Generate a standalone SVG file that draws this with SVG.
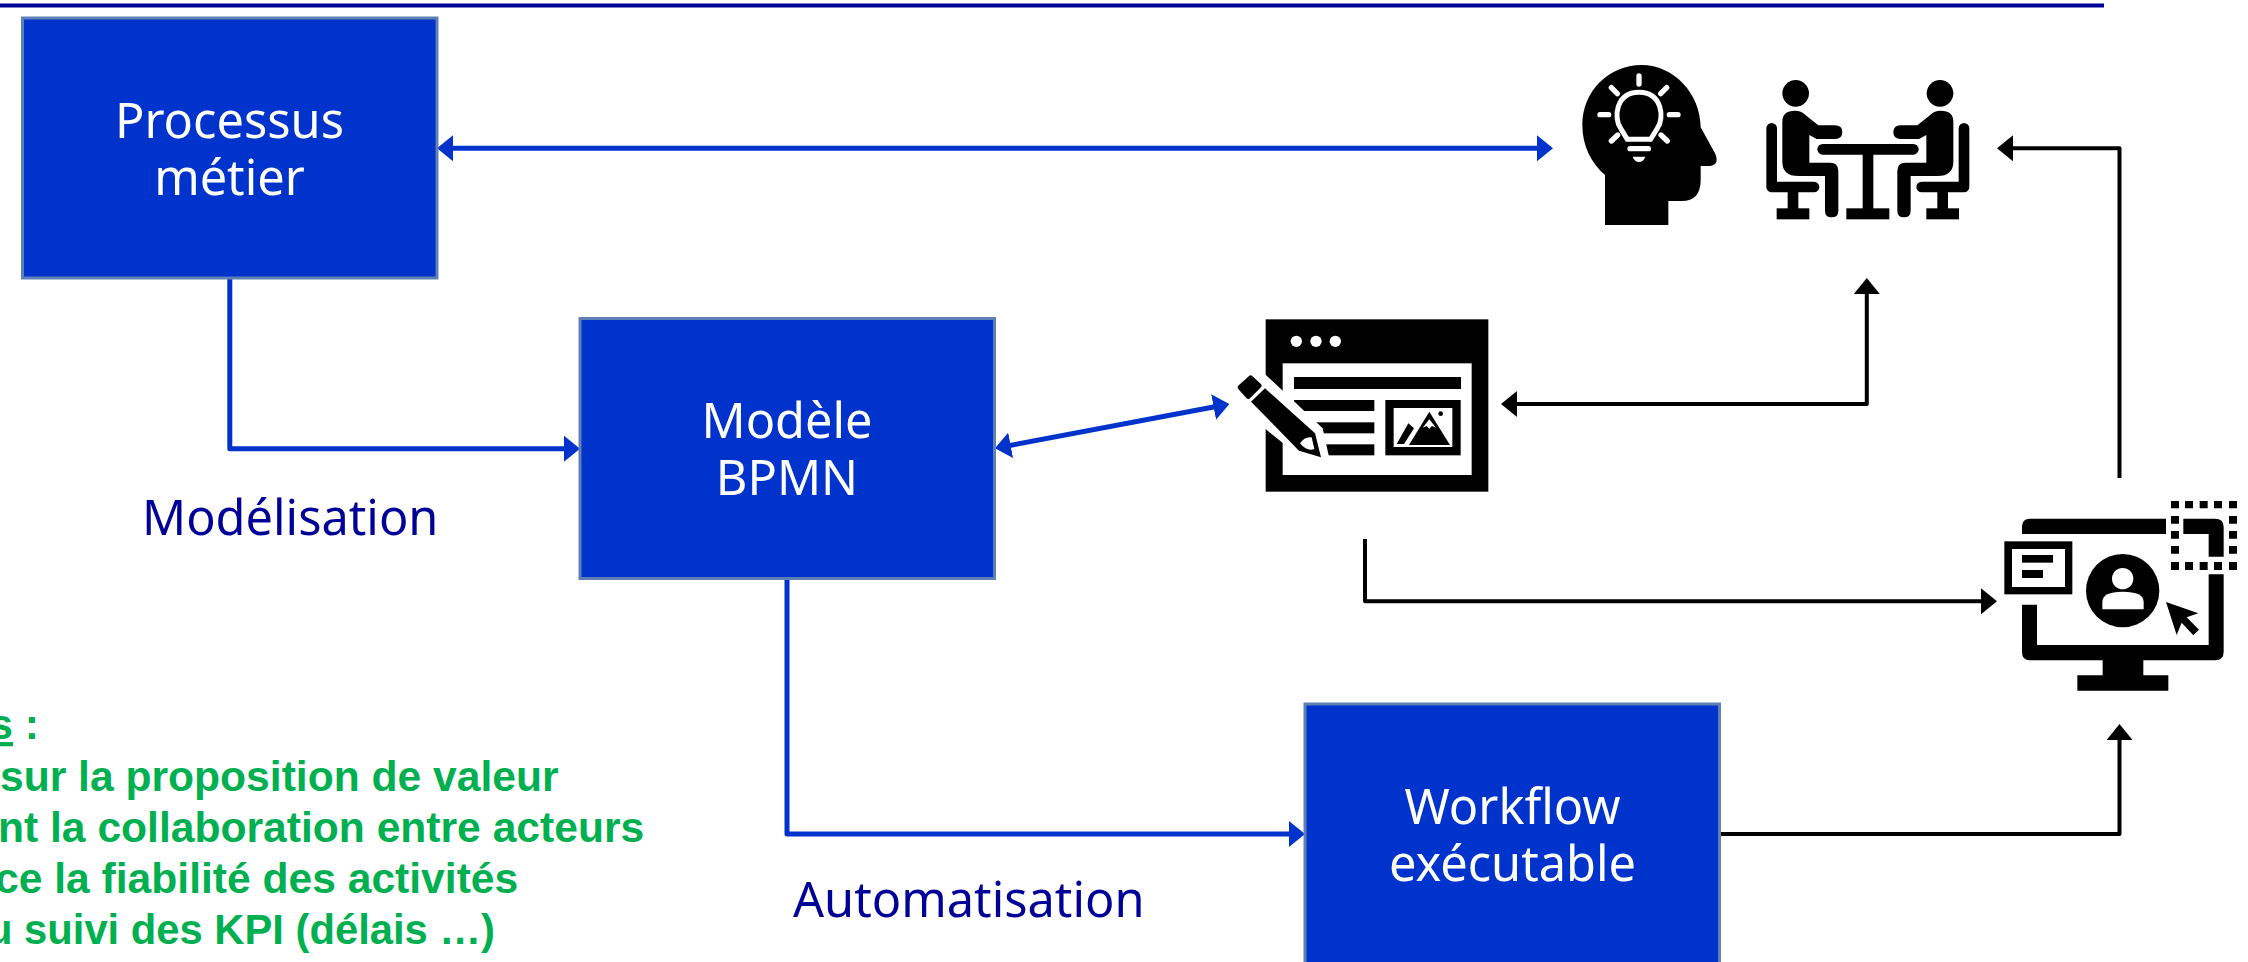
<svg xmlns="http://www.w3.org/2000/svg" width="2248" height="962" viewBox="0 0 2248 962">
<style>
.box{fill:#0033cc;stroke:#5f80b4;stroke-width:3}
.bt{font-family:"Noto Sans","Liberation Sans",sans-serif;font-size:48.7px;fill:#fff;text-anchor:middle}
.lbl{font-family:"Noto Sans","Liberation Sans",sans-serif;font-size:48.7px;fill:#000099}
.gr{font-family:"Liberation Sans",Arial,sans-serif;font-weight:bold;font-size:42.6px;fill:#00b050}
.bl{fill:none;stroke:#0033cc;stroke-width:5;stroke-linejoin:round}
.bk{fill:none;stroke:#000;stroke-width:4;stroke-linejoin:round}
.w{fill:#fff}
.ws{fill:none;stroke:#fff;stroke-linecap:round}
.ks{fill:none;stroke:#000;stroke-linecap:round;stroke-linejoin:round}
</style>
<defs>
<marker id="ab" markerUnits="userSpaceOnUse" markerWidth="16" markerHeight="26" viewBox="0 0 16 26" refX="8" refY="13" orient="auto-start-reverse"><path d="M0 0L16 13L0 26Z" fill="#0033cc"/></marker>
<marker id="ak" markerUnits="userSpaceOnUse" markerWidth="16" markerHeight="26" viewBox="0 0 16 26" refX="8" refY="13" orient="auto-start-reverse"><path d="M0 0L16 13L0 26Z" fill="#000"/></marker>
</defs>
<rect width="2248" height="962" fill="#fff"/>
<rect id="top-rule" x="0" y="3.5" width="2104" height="4" fill="#000099"/>

<g id="connectors">
<path class="bl" marker-start="url(#ab)" marker-end="url(#ab)" d="M445 148.3H1545"/>
<path class="bl" marker-end="url(#ab)" d="M229.8 278V448.7H572"/>
<path class="bl" marker-start="url(#ab)" marker-end="url(#ab)" d="M1002.8 446.8L1221.5 405.5"/>
<path class="bl" marker-end="url(#ab)" d="M787 579V834H1297"/>
<path class="bk" marker-start="url(#ak)" marker-end="url(#ak)" d="M1509 404H1866.8V286"/>
<path class="bk" marker-end="url(#ak)" d="M1365 539V601.3H1989"/>
<path class="bk" marker-end="url(#ak)" d="M1720 834H2119.5V732"/>
<path class="bk" marker-end="url(#ak)" d="M2119.5 478V148.3H2005"/>
</g>

<g id="node-processus">
<rect class="box" x="22.5" y="18" width="414.5" height="260"/>
<text class="bt" x="229.5" y="138">Processus</text>
<text class="bt" x="229.5" y="195">métier</text>
</g>
<g id="node-bpmn">
<rect class="box" x="580" y="318.5" width="414.5" height="260"/>
<text class="bt" x="787" y="438">Modèle</text>
<text class="bt" x="787" y="495">BPMN</text>
</g>
<g id="node-workflow">
<rect class="box" x="1305" y="704" width="414.5" height="260"/>
<text class="bt" x="1512.5" y="824">Workflow</text>
<text class="bt" x="1512.5" y="881">exécutable</text>
</g>

<text id="label-modelisation" class="lbl" x="142" y="535">Modélisation</text>
<text id="label-automatisation" class="lbl" x="793" y="917">Automatisation</text>

<g id="benefits">
<text class="gr" x="-10.7" y="739"><tspan text-decoration="underline">s</tspan> :</text>
<text class="gr" x="0" y="791">sur la proposition de valeur</text>
<text class="gr" x="-2" y="842">nt la collaboration entre acteurs</text>
<text class="gr" x="-5" y="893">ce la fiabilité des activités</text>
<text class="gr" x="-13" y="944" textLength="508" lengthAdjust="spacingAndGlyphs">u suivi des KPI (délais …)</text>
</g>

<g id="icon-head" transform="translate(1550 40) scale(.33333)">
<path d="M165 405V555H355V483H395Q452 483 452 420V378H480Q510 374 495 340L452 262C452 160 370 75 275 75C175 75 97 155 97 255C97 320 125 370 165 405Z"/>
<path class="ws" stroke-width="15" d="M232 298L212 265C190 235 197 157 267 157C337 157 344 235 322 265L302 298Z"/>
<path class="ws" stroke-width="16" d="M240 326H295M267 108V132M184 143L202 161M350 143L332 161M150 224H176M384 224H358M184 303L203 285M352 303L333 285"/>
<path class="w" d="M248 350H286Q280 366 267 366Q254 366 248 350Z"/>
</g>

<g id="icon-meeting" transform="translate(1550 40) scale(.33333)">
<path class="ks" stroke-width="32" d="M818 328H1090"/>
<rect x="938" y="328" width="32" height="180"/>
<rect x="889" y="505" width="129" height="33"/>
<g id="person-left">
<circle cx="737" cy="160" r="40"/>
<path class="ks" stroke-width="32" d="M665 265V441H792"/>
<rect x="713" y="441" width="32" height="70"/>
<rect x="680" y="505" width="98" height="33"/>
<path d="M697 245Q697 212 735 212Q755 212 770 228L805 256H855Q877 256 877 277Q877 297 855 297H800L778 285V368H840Q865 368 865 393V512Q865 532 845 532Q825 532 825 512V408H745Q697 408 697 365Z"/>
</g>
<g transform="translate(1907 0) scale(-1 1)">
<circle cx="737" cy="160" r="40"/>
<path class="ks" stroke-width="32" d="M665 265V441H792"/>
<rect x="713" y="441" width="32" height="70"/>
<rect x="680" y="505" width="98" height="33"/>
<path d="M697 245Q697 212 735 212Q755 212 770 228L805 256H855Q877 256 877 277Q877 297 855 297H800L778 285V368H840Q865 368 865 393V512Q865 532 845 532Q825 532 825 512V408H745Q697 408 697 365Z"/>
</g>
</g>

<g id="icon-editor" transform="translate(1220 300) scale(.33333)">
<rect x="137" y="58" width="668" height="517"/>
<rect class="w" x="188" y="190" width="567" height="335"/>
<circle class="w" cx="229" cy="124" r="17"/><circle class="w" cx="288" cy="124" r="17"/><circle class="w" cx="346" cy="124" r="17"/>
<rect x="222" y="231" width="501" height="36"/>
<rect x="222" y="300" width="241" height="33"/>
<rect x="270" y="367" width="193" height="33"/>
<rect x="310" y="433" width="153" height="33"/>
<rect x="496" y="300" width="226" height="166"/>
<rect class="w" x="521" y="324" width="176" height="117"/>
<path d="M628 335L690 435H567Z"/>
<path class="w" d="M608 383L628 358L648 383L636 378L628 386L620 378Z"/>
<path d="M530 432L565 370L582 385L552 432Z"/>
<circle cx="662" cy="341" r="7"/>
<path class="w" d="M125 213L308 385L328 475L240 470L140 390L50 290Z"/>
<path d="M92 233L118 257L85 290L60 262Z" stroke="#000" stroke-width="14" stroke-linejoin="round"/>
<path d="M135 265L285 400L303 472L237 452L93 305Z"/>
<path class="w" d="M240 430Q255 408 275 412L283 447Q260 455 240 430Z"/>
</g>

<g id="icon-monitor" transform="translate(1980 480) scale(.33333)">
<path d="M126 162V140Q126 116 150 116H558V162Z"/>
<path d="M610 116H705Q731 116 731 140V230H686V162H610Z"/>
<path d="M731 283V515Q731 541 705 541H490V586H565V632H292V586H368V541H150Q126 541 126 515V374H171V495H686V283Z"/>
<rect x="73" y="184" width="204" height="159"/>
<rect class="w" x="96" y="207" width="159" height="114"/>
<rect x="126" y="225" width="93" height="23"/>
<rect x="126" y="270" width="63" height="24"/>
<circle cx="428" cy="332" r="110"/>
<circle class="w" cx="428" cy="296" r="32"/>
<path class="w" d="M367 388V365Q367 335 428 335Q491 335 491 365V388Z"/>
<path d="M558 366L655 400L620 412L657 449L640 466L605 428L590 465Z"/>
<path d="M573 63h24v22h-24zM615 63h24v22h-24zM659 63h24v22h-24zM702 63h24v22h-24zM747 63h24v22h-24zM573 108h24v23h-24zM747 108h24v23h-24zM573 153h24v23h-24zM747 153h24v23h-24zM573 198h24v23h-24zM747 198h24v23h-24zM573 246h24v24h-24zM615 246h24v24h-24zM659 246h24v24h-24zM702 246h24v24h-24zM747 246h24v24h-24z"/>
</g>
</svg>
